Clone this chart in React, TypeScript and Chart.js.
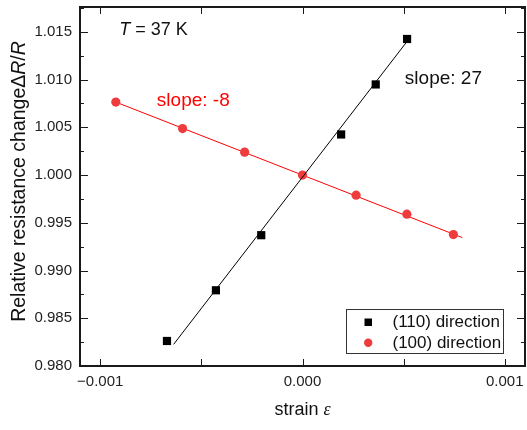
import React, { useEffect, useRef } from 'react';
import { Chart, registerables } from 'chart.js';

Chart.register(...registerables);

// ---- data ----
const strain110 = [-0.00067, -0.000428, -0.000204, 0.000191, 0.000362, 0.000517];
const resist110 = [0.98262, 0.98793, 0.9937, 1.00425, 1.00949, 1.01425];
const fit110Strain = [-0.000637, 0.000511];
const fit110Resist = [0.98227, 1.01383];

const strain100 = [-0.000923, -0.000593, -0.000286, 0, 0.000265, 0.000516, 0.000746];
const resist100 = [1.00764, 1.00487, 1.0024, 1.0, 0.99789, 0.9959, 0.99376];
const fit100Strain = [-0.000923, 0.00079];
const fit100Resist = [1.00764, 0.99345];

const xTickValues = [-0.001, -0.0005, 0, 0.0005, 0.001];
const xTickLabels = ['\u22120.001', '', '0.000', '', '0.001'];
const yTickValues = [
  0.98, 0.9825, 0.985, 0.9875, 0.99, 0.9925, 0.995, 0.9975, 1.0, 1.0025, 1.005, 1.0075, 1.01, 1.0125, 1.015,
  1.0175,
];
const yTickLabels = [
  '0.980', '', '0.985', '', '0.990', '', '0.995', '', '1.000', '', '1.005', '', '1.010', '', '1.015', '',
];

const seriesNames = ['(110) direction', '(100) direction'];
const slopeLabels = ['slope: 27', 'slope: -8'];

const SANS = "'Liberation Sans', Arial, sans-serif";
const SERIF = "'Liberation Serif', 'Times New Roman', serif";
const RED_LINE = '#FF0000';
const RED_MARK = '#EE3B3B';
const AXIS = '#1a1a1a';

type Part = { text: string; font: string; color: string };

function drawRich(ctx: CanvasRenderingContext2D, parts: Part[], x: number, y: number, align: 'left' | 'center') {
  ctx.textBaseline = 'middle';
  ctx.textAlign = 'left';
  let total = 0;
  const widths = parts.map((p) => {
    ctx.font = p.font;
    const w = ctx.measureText(p.text).width;
    total += w;
    return w;
  });
  let cx = align === 'center' ? x - total / 2 : x;
  parts.forEach((p, i) => {
    ctx.font = p.font;
    ctx.fillStyle = p.color;
    ctx.fillText(p.text, cx, y);
    cx += widths[i];
  });
}

const zeroPad = (s: any) => {
  s.paddingLeft = 0;
  s.paddingRight = 0;
  s.paddingTop = 0;
  s.paddingBottom = 0;
};

const decorPlugin = {
  id: 'decor',
  afterDraw(chart: any) {
    const ctx: CanvasRenderingContext2D = chart.ctx;
    const { left, right, top, bottom } = chart.chartArea;
    const xs = chart.scales.x;
    const ys = chart.scales.y;
    ctx.save();

    // inward ticks
    ctx.strokeStyle = AXIS;
    ctx.lineWidth = 1;
    ctx.beginPath();
    xTickValues.forEach((v) => {
      const px = Math.round(xs.getPixelForValue(v)) + 0.5;
      ctx.moveTo(px, bottom);
      ctx.lineTo(px, bottom - 7);
      ctx.moveTo(px, top);
      ctx.lineTo(px, top + 7);
    });
    yTickValues.forEach((v, i) => {
      const py = Math.round(ys.getPixelForValue(v)) + 0.5;
      const len = yTickLabels[i] ? 8 : 4;
      ctx.moveTo(left, py);
      ctx.lineTo(left + len, py);
      ctx.moveTo(right, py);
      ctx.lineTo(right - len, py);
    });
    ctx.stroke();

    // frame
    ctx.lineWidth = 2;
    ctx.strokeRect(left, top, right - left, bottom - top);

    // axis titles
    drawRich(
      ctx,
      [
        { text: 'strain ', font: `18px ${SANS}`, color: '#111' },
        { text: '\u03b5', font: `italic 18px ${SERIF}`, color: '#111' },
      ],
      (left + right) / 2,
      410,
      'center'
    );
    ctx.save();
    ctx.translate(20, 181.5);
    ctx.rotate(-Math.PI / 2);
    drawRich(
      ctx,
      [
        { text: 'Relative resistance change\u0394', font: `19.5px ${SANS}`, color: '#111' },
        { text: 'R', font: `italic 19.5px ${SANS}`, color: '#111' },
        { text: '/', font: `19.5px ${SANS}`, color: '#111' },
        { text: 'R', font: `italic 19.5px ${SANS}`, color: '#111' },
      ],
      0,
      0,
      'center'
    );
    ctx.restore();

    // annotations
    drawRich(
      ctx,
      [
        { text: 'T', font: `italic 18px ${SANS}`, color: '#111' },
        { text: ' = 37 K', font: `18px ${SANS}`, color: '#111' },
      ],
      xs.getPixelForValue(-0.000906),
      ys.getPixelForValue(1.01524),
      'left'
    );
    drawRich(
      ctx,
      [{ text: slopeLabels[0], font: `19px ${SANS}`, color: '#111' }],
      xs.getPixelForValue(0.000506),
      ys.getPixelForValue(1.0101),
      'left'
    );
    drawRich(
      ctx,
      [{ text: slopeLabels[1], font: `19px ${SANS}`, color: RED_LINE }],
      xs.getPixelForValue(-0.00072),
      ys.getPixelForValue(1.0078),
      'left'
    );

    // legend
    const bx = right - 178.5;
    const by = bottom - 56.5;
    ctx.lineWidth = 1;
    ctx.strokeStyle = '#333';
    ctx.strokeRect(bx, by, 157, 44);
    ctx.fillStyle = '#000';
    ctx.fillRect(bx + 18, by + 9, 7.5, 7.5);
    ctx.fillStyle = RED_MARK;
    ctx.beginPath();
    ctx.arc(bx + 21.7, by + 33.3, 4.2, 0, Math.PI * 2);
    ctx.fill();
    drawRich(ctx, [{ text: seriesNames[0], font: `17px ${SANS}`, color: '#111' }], bx + 46, by + 12.8, 'left');
    drawRich(ctx, [{ text: seriesNames[1], font: `17px ${SANS}`, color: '#111' }], bx + 46, by + 33.5, 'left');

    ctx.restore();
  },
};

export default function App() {
  const canvasRef = useRef<HTMLCanvasElement | null>(null);

  useEffect(() => {
    const canvas = canvasRef.current;
    if (!canvas) return;
    const toPts = (xa: number[], ya: number[]) => xa.map((x, i) => ({ x, y: ya[i] }));

    const chart = new Chart(canvas, {
      type: 'scatter',
      data: {
        datasets: [
          {
            label: 'fit (110)',
            data: toPts(fit110Strain, fit110Resist),
            showLine: true,
            borderColor: '#000',
            borderWidth: 1,
            pointRadius: 0,
            order: 2,
          },
          {
            label: seriesNames[0],
            data: toPts(strain110, resist110),
            pointStyle: 'rect',
            pointRadius: 5.8,
            pointBorderWidth: 0,
            backgroundColor: '#000',
            borderColor: '#000',
            order: 1,
          },
          {
            label: 'fit (100)',
            data: toPts(fit100Strain, fit100Resist),
            showLine: true,
            borderColor: RED_LINE,
            borderWidth: 1,
            pointRadius: 0,
            order: 4,
          },
          {
            label: seriesNames[1],
            data: toPts(strain100, resist100),
            pointStyle: 'circle',
            pointRadius: 4.6,
            pointBorderWidth: 0,
            backgroundColor: RED_MARK,
            borderColor: RED_MARK,
            order: 3,
          },
        ],
      } as any,
      options: {
        responsive: false,
        animation: false,
        devicePixelRatio: 1,
        layout: { autoPadding: false, padding: { top: 7, right: 2, left: 0, bottom: 0 } },
        plugins: { legend: { display: false }, tooltip: { enabled: false } },
        scales: {
          x: {
            type: 'linear',
            min: -0.0011,
            max: 0.0011,
            grid: { display: false, drawTicks: true, tickLength: 7 },
            border: { display: false },
            afterBuildTicks: (s: any) => {
              s.ticks = xTickValues.map((v) => ({ value: v }));
            },
            afterFit: (s: any) => {
              s.height = 64;
              zeroPad(s);
            },
            ticks: {
              padding: 0,
              autoSkip: false,
              maxRotation: 0,
              color: '#222',
              font: { family: SANS, size: 15 },
              callback: (v: any) => {
                const k = xTickValues.findIndex((t) => Math.abs(t - Number(v)) < 1e-9);
                return k >= 0 ? xTickLabels[k] : '';
              },
            },
          },
          y: {
            type: 'linear',
            min: 0.98,
            max: 1.0176,
            grid: { display: false, drawTicks: false },
            border: { display: false },
            afterBuildTicks: (s: any) => {
              s.ticks = yTickValues.map((v) => ({ value: v }));
            },
            afterFit: (s: any) => {
              s.width = 80;
              zeroPad(s);
            },
            ticks: {
              padding: 8,
              autoSkip: false,
              color: '#222',
              font: { family: SANS, size: 15 },
              callback: (v: any) => {
                const k = yTickValues.findIndex((t) => Math.abs(t - Number(v)) < 1e-9);
                return k >= 0 ? yTickLabels[k] : '';
              },
            },
          },
        },
      } as any,
      plugins: [decorPlugin],
    });
    return () => chart.destroy();
  }, []);

  return (
    <div style={{ position: 'absolute', left: 0, top: 0, width: 527, height: 430, background: '#fff' }}>
      <canvas ref={canvasRef} width={527} height={430} />
    </div>
  );
}
